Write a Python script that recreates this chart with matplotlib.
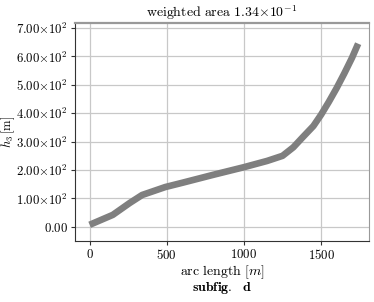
import matplotlib
matplotlib.use('Agg')
import matplotlib.pyplot as plt
from matplotlib.ticker import FuncFormatter

plt.rcParams['mathtext.fontset'] = 'cm'
plt.rcParams['font.family'] = 'serif'
plt.rcParams['font.size'] = 10

# data
arc = [0, 150, 260, 340, 490, 600, 800, 1000, 1150, 1250, 1320, 1380,
       1450, 1500, 1550, 1600, 1650, 1700, 1740]
h3 = [7, 42, 84, 112, 140, 155, 183, 210, 232, 250, 280, 315,
      355, 395, 440, 488, 540, 595, 645]
xticks = [0, 500, 1000, 1500]
yticks = [0, 100, 200, 300, 400, 500, 600, 700]


def yfmt(v, pos):
    if v == 0:
        return r'$0.00$'
    return r'$%.2f{\times}10^{2}$' % (v / 100.0)


fig = plt.figure(figsize=(3.74, 3.02), dpi=100)
ax = fig.add_axes([0.2005, 0.202, 0.786, 0.722])
ax.plot(arc, h3, color='#7f7f7f', lw=4.8, solid_capstyle='butt', zorder=3)

ax.set_xlim(-95, 1810)
ax.set_ylim(-50, 718)
ax.set_xticks(xticks)
ax.set_yticks(yticks)
ax.xaxis.set_major_formatter(FuncFormatter(lambda v, p: r'$%d$' % v))
ax.yaxis.set_major_formatter(FuncFormatter(yfmt))
ax.grid(True, color='#c8c8c8', lw=0.9)
ax.tick_params(length=3, width=0.8, colors='#333333', labelcolor='black',
               pad=2, labelsize=9.2)

ax.spines['left'].set_color('#333333')
ax.spines['bottom'].set_color('#333333')
ax.spines['top'].set_color('#999999')
ax.spines['top'].set_linewidth(1.6)
ax.spines['right'].set_color('#999999')

ax.set_title(r'$\mathrm{weighted\ area\ }1.34{\times}10^{-1}$', fontsize=10, pad=4)
ax.set_xlabel(r'$\mathrm{arc\ length\ }[m]$', labelpad=1)
ax.set_ylabel(r'$h_3\,[\mathrm{m}]$', fontsize=9)
ax.yaxis.set_label_coords(-0.198, 0.5)
fig.text(0.593, 0.046, r'$\mathbf{subfig.\ \ d}$', ha='center', va='center', fontsize=10)

fig.savefig('out.png', dpi=100)
